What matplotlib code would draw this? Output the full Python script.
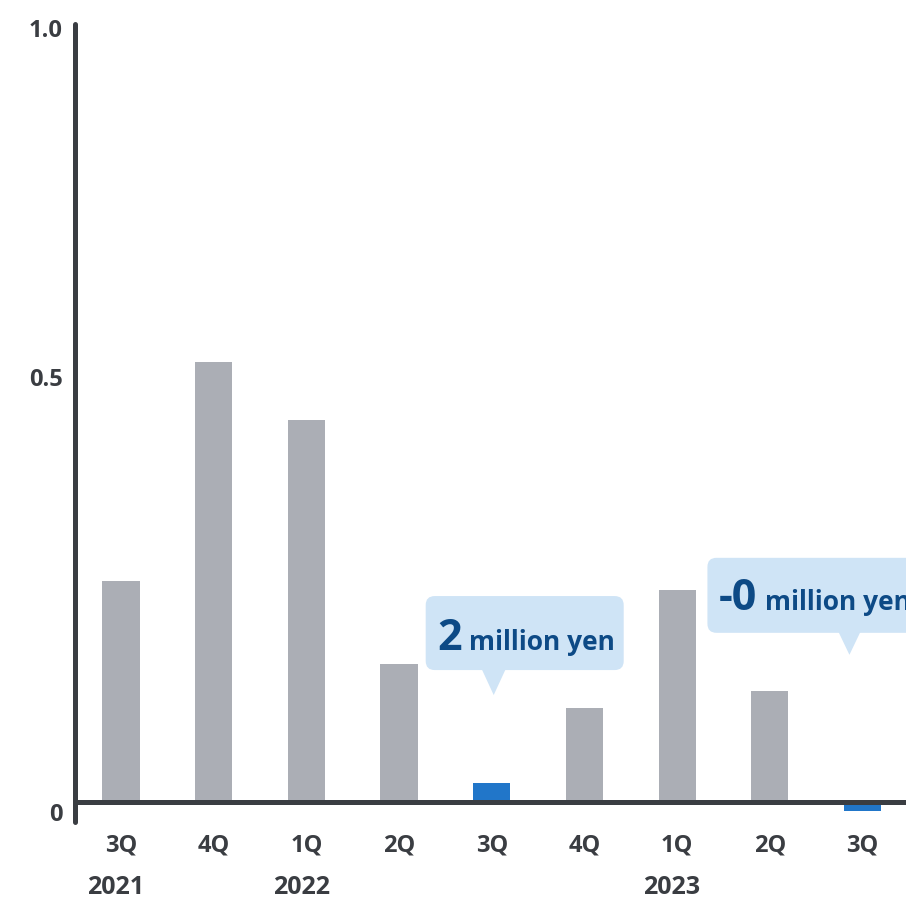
import matplotlib.pyplot as plt
from matplotlib.patches import FancyBboxPatch, Polygon
from matplotlib.transforms import Affine2D, ScaledTranslation

quarters = ['3Q', '4Q', '1Q', '2Q', '3Q', '4Q', '1Q', '2Q', '3Q']
years = ['2021', '2022', '2023']
year_at = [0, 2, 6]
values = [0.285, 0.568, 0.493, 0.178, 0.025, 0.121, 0.274, 0.143, -0.012]
highlight = [4, 8]
callout_big = ['2', '-0']
callout_small = 'million yen'

ytick_pos = [-0.013, 0.549, 1.0]
ytick_labels = ['0', '0.5', '1.0']

dark = '#3a3d42'
gray = '#abaeb5'
blue = '#2176c9'
light = '#cfe4f6'
navy = '#0d4a86'

plt.rcParams['font.family'] = ['Open Sans', 'DejaVu Sans']

fig = plt.figure(figsize=(9.06, 9.0), dpi=100)
ax = fig.add_axes([75 / 906, 1 - 822 / 900, 1 - 75 / 906, (822 - 24) / 900])

colors = [blue if i in highlight else gray for i in range(len(values))]
ax.bar(range(len(values)), values, width=0.4, color=colors, zorder=2)
ax.axhline(0, color=dark, lw=3.6, zorder=3)

ax.set_xlim(-0.496, 8.47)
ax.set_ylim(-0.026, 1.005)

for s in ['top', 'right', 'bottom']:
    ax.spines[s].set_visible(False)
ax.spines['left'].set_color(dark)
ax.spines['left'].set_linewidth(3.6)
ax.spines['left'].set_capstyle('round')

ax.set_yticks(ytick_pos)
ax.set_yticklabels(ytick_labels)
ax.set_xticks(range(len(quarters)))
ax.set_xticklabels(quarters)
ax.tick_params(axis='both', length=0, labelsize=17, colors=dark)
ax.tick_params(axis='x', pad=8)
ax.tick_params(axis='y', pad=9)
for lab in ax.get_xticklabels() + ax.get_yticklabels():
    lab.set_fontweight('bold')

for y, i in zip(years, year_at):
    ax.annotate(y, xy=(i, 0), xycoords=('data', 'axes fraction'),
                xytext=(-5, -66), textcoords='offset pixels',
                ha='center', va='center', fontsize=18, fontweight='bold',
                color=dark)

# callouts: tip position (data) and box geometry in pixels around the tip
tips = [(4, 0.138, 2), (8, 0.19, -13)]
boxes = [(-68, 130, 25, 99, 12, -56, -25), (-142, 220, 22, 97, 11, -131, -84)]

px = Affine2D().scale(1 / 100.0)
for k in range(len(tips)):
    xi, yt, dx = tips[k]
    l, r, b, t, hw, tx1, tx2 = boxes[k]
    tr = px + fig.dpi_scale_trans + ScaledTranslation(xi, yt, ax.transData)
    tr = Affine2D().translate(dx, 0) + tr
    box = FancyBboxPatch((l, b), r - l, t - b,
                         boxstyle='round,pad=0,rounding_size=9',
                         fc=light, ec='none', transform=tr, zorder=5,
                         clip_on=False)
    fig.patches.append(box)
    tri = Polygon([(-hw, b + 1), (hw, b + 1), (0, 0)], closed=True,
                  fc=light, ec='none', transform=tr, zorder=5)
    fig.patches.append(tri)
    fig.text(tx1, 45, callout_big[k], transform=tr, fontsize=31,
             fontweight='bold', color=navy, va='baseline', ha='left',
             zorder=6)
    fig.text(tx2, 45, callout_small, transform=tr, fontsize=19,
             fontweight='bold', color=navy, va='baseline', ha='left',
             zorder=6)

fig.savefig('out.png', dpi=100)
